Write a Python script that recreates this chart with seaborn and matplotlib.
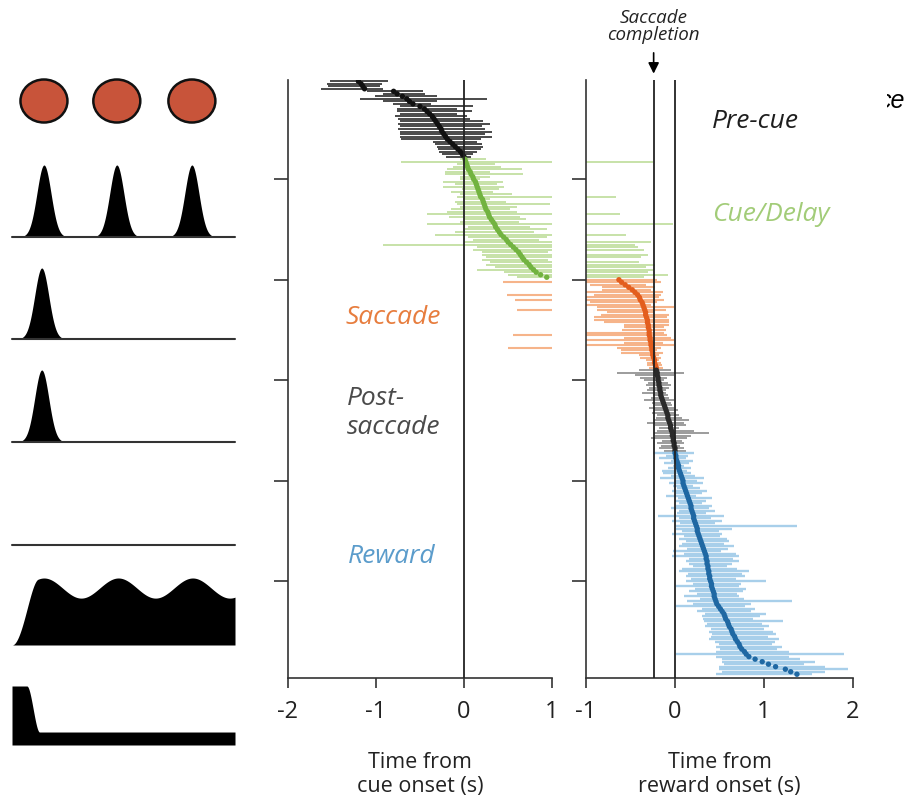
import numpy as np
import pandas as pd
import matplotlib
matplotlib.use("Agg")
import matplotlib.pyplot as plt
import seaborn as sns
from matplotlib.patches import Ellipse
from matplotlib.transforms import Bbox, TransformedBbox

nan = np.nan
inf = np.inf

# ------------------------------------------------------------------
# Peak response time (dot) and response window (bar) for each neuron,
# in seconds.  Neurons are listed in sort order, grouped by epoch.
# inf / -inf: the window runs past the edge of the plotted range.
# ------------------------------------------------------------------

# Pre-cue neurons, aligned to cue onset
precue_peak = [-1.20, -1.17, -1.15, -1.13, -0.80, -0.76, -0.70, -0.65, -0.62, -0.58,
               -0.50, -0.45, -0.42, -0.39, -0.36, -0.34, -0.32, -0.30, -0.28, -0.26,
               -0.25, -0.23, -0.21, -0.19, -0.16, -0.13, -0.10, -0.07, -0.04, -0.02, 0.00]
precue_lo = [-1.52, -1.56, -1.55, -1.63, -1.10, -0.92, -1.01, -1.18, -0.92, -0.81,
             -0.73, -0.76, -0.76, -0.73, -0.78, -0.75, -0.73, -0.75, -0.73, -0.75,
             -0.73, -0.73, -0.73, -0.72, -0.35, -0.33, -0.31, -0.30, -0.28, -0.25, -0.20]
precue_hi = [-0.86, -0.93, -0.95, -0.92, -0.47, -0.44, -0.31, 0.26, -0.31, -0.37,
             0.10, -0.08, 0.09, -0.08, 0.03, 0.07, 0.22, 0.30, 0.20, 0.24,
             0.32, 0.24, 0.32, 0.19, 0.15, 0.20, 0.22, 0.19, 0.15, 0.10, 0.08]

# Cue/Delay neurons, aligned to cue onset
cue_peak = [0.01, 0.02, 0.03, 0.04, 0.05, 0.07, 0.08, 0.10, 0.11, 0.13,
            0.14, 0.15, 0.16, 0.17, 0.18, 0.19, 0.21, 0.22, 0.23, 0.24,
            0.25, 0.27, 0.28, 0.29, 0.31, 0.33, 0.35, 0.36, 0.38, 0.40,
            0.42, 0.45, 0.48, 0.50, 0.53, 0.56, 0.59, 0.62, 0.64, 0.66,
            0.68, 0.71, 0.74, 0.76, 0.79, 0.82, 0.87, 0.94]
cue_lo = [-0.05, -0.72, -0.08, -0.12, -0.19, -0.22, -0.22, -0.05, -0.05, -0.24,
          -0.10, -0.24, -0.02, -0.15, -0.05, -0.08, -0.01, -0.10, -0.08, -0.05,
          -0.15, -0.19, -0.42, -0.17, 0.00, -0.05, -0.42, 0.05, 0.01, -0.10,
          -0.33, 0.05, 0.10, 0.00, -0.92, 0.15, 0.10, 0.20, 0.20, 0.25,
          0.20, 0.30, 0.25, 0.35, 0.15, 0.45, 0.50, 0.60]
cue_hi = [0.25, inf, 0.35, 0.42, 0.66, 0.30, 0.67, 0.30, 0.18, 0.44,
          0.38, 0.45, 0.40, 0.33, 0.55, inf, 0.30, 0.48, 0.98, 0.60,
          0.52, 0.60, inf, 0.64, 0.70, 0.62, inf, 0.75, 0.94, 0.80,
          inf, 0.94, 0.85, inf, inf, inf, inf, 0.95, inf, inf,
          0.95, inf, inf, inf, inf, inf, inf, inf]
# Cue/Delay windows aligned to reward onset (end of window; nan = ends before -1 s)
cue_hi_reward = [nan, -0.25, nan, nan, nan, nan, nan, nan, nan, nan,
                 nan, nan, nan, nan, nan, -0.66, nan, nan, nan, nan,
                 nan, nan, -0.62, nan, nan, nan, -0.02, nan, nan, nan,
                 -0.55, nan, nan, -0.27, -0.45, -0.42, -0.35, nan, -0.30, -0.38,
                 nan, -0.40, -0.22, -0.33, -0.25, -0.30, -0.08, -0.35]

# Saccade neurons, aligned to reward onset
sacc_peak = [-0.63, -0.60, -0.56, -0.52, -0.48, -0.45, -0.42, -0.40, -0.39, -0.37,
             -0.36, -0.35, -0.34, -0.33, -0.33, -0.32, -0.31, -0.31, -0.30, -0.30,
             -0.29, -0.29, -0.29, -0.28, -0.28, -0.27, -0.27, -0.26, -0.26, -0.25,
             -0.25, -0.24, -0.23, -0.23, -0.22, -0.21]
sacc_lo = [-inf, -inf, -0.95, -0.82, -0.82, -inf, -0.91, -inf, -inf, -0.95,
           -inf, -0.88, -0.88, -0.76, -0.83, -0.91, -0.91, -0.80, -0.57, -0.57,
           -0.59, -inf, -inf, -0.57, -inf, -0.57, -inf, -0.65, -0.61, -0.61,
           -0.40, -0.39, -0.33, -0.31, -0.31, -0.29]
sacc_hi = [-0.20, -0.16, -0.33, -0.22, -0.27, -0.14, -0.16, -0.18, -0.12, -0.20,
           -0.27, -0.01, -0.10, -0.24, -0.07, -0.09, -0.07, -0.07, -0.07, -0.12,
           -0.10, -0.12, -0.09, -0.05, -0.01, -0.14, -0.01, -0.16, -0.20, -0.14,
           -0.18, -0.16, -0.18, -0.16, -0.15, -0.14]
# Saccade windows aligned to cue onset (start; nan = starts after 1 s)
sacc_lo_cue = [nan, 0.44, nan, nan, nan, nan, 0.49, nan, 0.58, nan,
               nan, nan, 0.60, nan, nan, nan, nan, nan, nan, nan,
               nan, nan, 0.56, nan, nan, nan, nan, 0.50, nan, nan,
               nan, nan, nan, nan, nan, nan]

# Post-saccade neurons, aligned to reward onset
post_peak = [-0.21, -0.20, -0.20, -0.19, -0.19, -0.18, -0.18, -0.17, -0.17, -0.16,
             -0.16, -0.15, -0.14, -0.13, -0.12, -0.11, -0.10, -0.09, -0.08, -0.08,
             -0.07, -0.06, -0.05, -0.05, -0.04, -0.03, -0.03, -0.02, -0.02, -0.01,
             -0.01, 0.00, 0.00]
post_lo = [-0.40, -0.65, -0.45, -0.39, -0.35, -0.30, -0.33, -0.29, -0.31, -0.37,
           -0.25, -0.27, -0.35, -0.26, -0.22, -0.29, -0.24, -0.26, -0.20, -0.21,
           -0.24, -0.31, -0.22, -0.18, -0.20, -0.24, -0.22, -0.27, -0.15, -0.20,
           -0.16, -0.18, -0.12]
post_hi = [-0.05, 0.10, -0.01, -0.09, -0.12, -0.08, -0.05, -0.07, -0.10, -0.10,
           -0.08, -0.07, -0.01, -0.05, -0.03, -0.01, 0.03, -0.01, 0.05, 0.08,
           0.16, 0.10, 0.12, 0.05, 0.21, 0.38, 0.18, 0.14, 0.08, 0.10,
           0.06, 0.10, 0.12]

# Reward neurons, aligned to reward onset
reward_peak = [0.00, 0.01, 0.01, 0.02, 0.03, 0.04, 0.04, 0.05, 0.06, 0.07,
               0.08, 0.09, 0.09, 0.10, 0.11, 0.12, 0.13, 0.14, 0.15, 0.16,
               0.17, 0.18, 0.18, 0.19, 0.20, 0.21, 0.21, 0.22, 0.23, 0.24,
               0.25, 0.25, 0.26, 0.27, 0.28, 0.29, 0.30, 0.31, 0.32, 0.33,
               0.34, 0.35, 0.35, 0.36, 0.36, 0.37, 0.37, 0.38, 0.38, 0.39,
               0.39, 0.40, 0.41, 0.41, 0.42, 0.43, 0.44, 0.44, 0.45, 0.46,
               0.47, 0.49, 0.51, 0.53, 0.55, 0.56, 0.57, 0.59, 0.60, 0.61,
               0.63, 0.64, 0.65, 0.67, 0.68, 0.70, 0.72, 0.73, 0.75, 0.78,
               0.80, 0.83, 0.90, 0.98, 1.05, 1.13, 1.24, 1.30, 1.37]
reward_lo = [-0.25, -0.10, -0.18, -0.05, -0.12, -0.02, -0.08, -0.15, -0.14, -0.04,
             -0.17, 0.00, -0.07, -0.02, 0.02, -0.03, 0.01, -0.10, 0.03, 0.00,
             0.05, 0.01, -0.05, 0.04, 0.02, -0.19, 0.05, -0.03, 0.06, 0.01,
             0.01, 0.08, -0.03, 0.10, 0.05, 0.12, 0.08, 0.05, 0.14, -0.02,
             0.10, -0.03, 0.16, 0.12, 0.16, 0.20, 0.08, 0.04, 0.15, 0.12,
             0.18, 0.12, 0.20, 0.01, 0.22, 0.16, 0.25, 0.10, 0.28, 0.14,
             0.20, 0.01, 0.30, 0.25, 0.34, 0.30, 0.31, 0.33, 0.36, 0.34,
             0.40, 0.38, 0.42, 0.40, 0.38, 0.45, 0.49, 0.46, 0.50, 0.46,
             0.01, 0.46, 0.53, 0.53, 0.55, 0.49, 0.49, 0.53, 0.46]
reward_hi = [0.21, 0.15, 0.12, 0.20, 0.16, 0.10, 0.18, 0.14, 0.18, 0.22,
             0.33, 0.25, 0.31, 0.20, 0.28, 0.36, 0.30, 0.24, 0.42, 0.35,
             0.30, 0.42, 0.38, 0.45, 0.35, 0.55, 0.40, 0.53, 0.45, 1.37,
             0.64, 0.49, 0.53, 0.50, 0.58, 0.61, 0.55, 0.66, 0.60, 0.52,
             0.68, 0.72, 0.65, 0.72, 0.64, 0.58, 0.70, 0.83, 0.75, 0.79,
             0.68, 1.02, 0.74, 0.72, 0.80, 0.76, 0.70, 0.72, 0.78, 1.32,
             0.85, 0.79, 0.90, 0.85, 1.02, 0.95, 0.88, 1.21, 0.98, 1.06,
             1.00, 1.10, 1.13, 1.05, 1.17, 1.12, 1.09, 1.20, 1.15, 1.28,
             1.90, 1.28, 1.40, 1.57, 1.45, 1.69, 1.94, 1.69, 1.54]

sacc_completion = -0.24          # mean saccade completion, s from reward onset
cue_xticks = [-2, -1, 0, 1]
reward_xticks = [-1, 0, 1, 2]
row_ticks = [40, 80, 120, 160, 200]

# Schematic of idealised epoch responses (times in task-epoch units)
stim_times = [0.43, 1.41, 2.42]
peak_rows = [[0.43, 1.41, 2.42], [0.40], [0.40]]
peak_sigma = 0.095
tonic_level, tonic_mod = 0.85, 0.15
ramp_floor = 0.22

# ------------------------------------------------------------------
groups = ["Pre-cue", "Cue/Delay", "Saccade", "Post-saccade", "Reward"]
sizes = [len(precue_peak), len(cue_peak), len(sacc_peak), len(post_peak), len(reward_peak)]
starts = dict(zip(groups, np.cumsum([1] + sizes[:-1])))

def rows_of(g):
    return np.arange(starts[g], starts[g] + sizes[groups.index(g)])

def frame(g, peak, lo, hi):
    return pd.DataFrame({"group": g, "row": rows_of(g), "peak": peak, "lo": lo, "hi": hi})

n_sacc = len(sacc_peak)
cue_df = pd.concat([
    frame("Pre-cue", precue_peak, precue_lo, precue_hi),
    frame("Cue/Delay", cue_peak, cue_lo, cue_hi),
    frame("Saccade", [nan] * n_sacc, sacc_lo_cue, [inf] * n_sacc).dropna(subset=["lo"]),
], ignore_index=True)

n_cue = len(cue_peak)
rew_df = pd.concat([
    frame("Cue/Delay", [nan] * n_cue, [-inf] * n_cue, cue_hi_reward).dropna(subset=["hi"]),
    frame("Saccade", sacc_peak, sacc_lo, sacc_hi),
    frame("Post-saccade", post_peak, post_lo, post_hi),
    frame("Reward", reward_peak, reward_lo, reward_hi),
], ignore_index=True)

bar_colors = {"Pre-cue": "#3c3c3c", "Cue/Delay": "#bedd9a", "Saccade": "#f6b48a",
              "Post-saccade": "#9c9c9c", "Reward": "#a8cfea"}
dot_colors = {"Pre-cue": "#111111", "Cue/Delay": "#72b340", "Saccade": "#e35e1e",
              "Post-saccade": "#2a2a2a", "Reward": "#1f68a3"}
label_colors = {"Pre-cue": "#1e1e1e", "Cue/Delay": "#a2cc78", "Saccade": "#e77d3e",
                "Post-saccade": "#4a4a4a", "Reward": "#5b9ccb"}
bar_width = {"Pre-cue": 1.3, "Cue/Delay": 1.2, "Saccade": 1.5,
             "Post-saccade": 1.4, "Reward": 1.7}

sns.set_theme(style="ticks")
plt.rcParams["font.family"] = ["Open Sans", "DejaVu Sans"]
plt.rcParams["axes.unicode_minus"] = False

W, H = 907, 801
fig = plt.figure(figsize=(W / 100, H / 100), dpi=100)
fig.patch.set_facecolor("white")

def px_axes(left, top, right, bottom):
    return fig.add_axes([left / W, 1 - bottom / H, (right - left) / W, (bottom - top) / H])

ROW_LIM = (238.5, 0.5)
ax_c = px_axes(288, 80, 552, 678)
ax_r = px_axes(586, 80, 853, 678)

def draw_panel(ax, df, xlim, xticks, xlabel):
    for g, sub in df.groupby("group", sort=False):
        lo = sub["lo"].clip(*xlim)
        hi = sub["hi"].clip(*xlim)
        ax.hlines(sub["row"], lo, hi, colors=bar_colors[g], lw=bar_width[g], zorder=2)
    pts = df.dropna(subset=["peak"])
    sns.scatterplot(data=pts, x="peak", y="row", hue="group", palette=dot_colors,
                    s=15, linewidth=0, legend=False, ax=ax, zorder=3)
    ax.set_xlim(*xlim)
    ax.set_ylim(*ROW_LIM)
    ax.set_xticks(xticks)
    ax.set_xticklabels([str(t) for t in xticks])
    ax.set_yticks(row_ticks)
    ax.set_yticklabels([])
    ax.set_ylabel("")
    ax.set_xlabel(xlabel, fontsize=15.5, labelpad=20, color="#222", linespacing=1.2)
    ax.tick_params(axis="y", length=10, width=1.2, color="#333", direction="out")
    ax.tick_params(axis="x", length=7, width=1.2, color="#333", direction="out",
                   labelsize=17, pad=9, labelcolor="#222")
    for s in ["top", "right"]:
        ax.spines[s].set_visible(False)
    for s in ["left", "bottom"]:
        ax.spines[s].set_linewidth(1.2)
        ax.spines[s].set_color("#333")
    ax.set_facecolor("none")
    ax.axvline(0, color="#222", lw=1.3, zorder=4)

draw_panel(ax_c, cue_df, (-2, 1), cue_xticks, "Time from\ncue onset (s)")
draw_panel(ax_r, rew_df, (-1, 2), reward_xticks, "Time from\nreward onset (s)")
ax_r.axvline(sacc_completion, color="#222", lw=1.3, zorder=4)

# Epoch labels
lab = dict(fontsize=19, style="italic", va="center", ha="left")
ax_c.text(-1.35, 95.2, "Saccade", color=label_colors["Saccade"], **lab)
ax_c.text(-1.33, 133.0, "Post-\nsaccade", color=label_colors["Post-saccade"],
          linespacing=1.2, **lab)
ax_c.text(-1.32, 190.3, "Reward", color=label_colors["Reward"], **lab)
ax_r.text(0.42, 17.2, "Pre-cue", color=label_colors["Pre-cue"], **lab)
ax_r.text(0.42, 54.2, "Cue/Delay", color=label_colors["Cue/Delay"], **lab)

# Saccade completion marker
ax_r.annotate("", xy=(sacc_completion, 1.006), xycoords=("data", "axes fraction"),
              xytext=(sacc_completion, 1.05), textcoords=("data", "axes fraction"),
              arrowprops=dict(arrowstyle="-|>", color="black", lw=1.2, mutation_scale=16),
              annotation_clip=False)
ax_r.text(sacc_completion, 1.09, "Saccade\ncompletion", transform=ax_r.get_xaxis_transform(),
          ha="center", va="center", fontsize=13.5, style="italic", color="#222",
          linespacing=0.95)

# Partly hidden heading at the right edge
t = fig.text(905 / W, 1 - 101 / H, "ce", ha="right", va="center", fontsize=18,
             style="italic", family=["Liberation Sans", "DejaVu Sans"], color="black")
t.set_clip_box(TransformedBbox(Bbox.from_extents(887 / W, 0, 1, 1), fig.transFigure))
t.set_clip_on(True)

# ------------------------------------------------------------------
# Left-hand schematic
SX0, SX1 = 12, 235
u = np.linspace(0, 3, 900)

def schem_axes(top, bottom):
    a = px_axes(SX0, top, SX1, bottom)
    a.set_xlim(0, 3)
    a.set_ylim(0, 1)
    a.axis("off")
    return a

a = schem_axes(76, 126)
for c in stim_times:
    a.add_patch(Ellipse((c, 0.5), 0.632, 0.86, facecolor="#c8543a",
                        edgecolor="#111", lw=1.8, clip_on=False))

for (top, bottom), centers in zip([(165, 237), (268, 339), (370, 442)], peak_rows):
    a = schem_axes(top, bottom)
    y = np.zeros_like(u)
    for c in centers:
        y += np.exp(-0.5 * ((u - c) / peak_sigma) ** 2)
    a.fill_between(u, 0, y, color="black", lw=0)
    a.axhline(0, color="#333", lw=1.5, clip_on=False)

a = schem_axes(535, 545)
a.axhline(0, color="#333", lw=1.5, clip_on=False)

a = schem_axes(578, 645)
s = np.clip(u / 0.35, 0, 1)
onset = 3 * s ** 2 - 2 * s ** 3
tonic = onset * (tonic_level + tonic_mod * np.cos(2 * np.pi * (u - stim_times[0])))
a.fill_between(u, 0, tonic, color="black", lw=0)

a = schem_axes(686, 745)
s = np.clip((u - 0.2) / 0.17, 0, 1)
ramp = ramp_floor + (1 - ramp_floor) * (1 - (3 * s ** 2 - 2 * s ** 3))
a.fill_between(u, 0, ramp, color="black", lw=0)

fig.savefig("out.png", dpi=100, facecolor="white")
